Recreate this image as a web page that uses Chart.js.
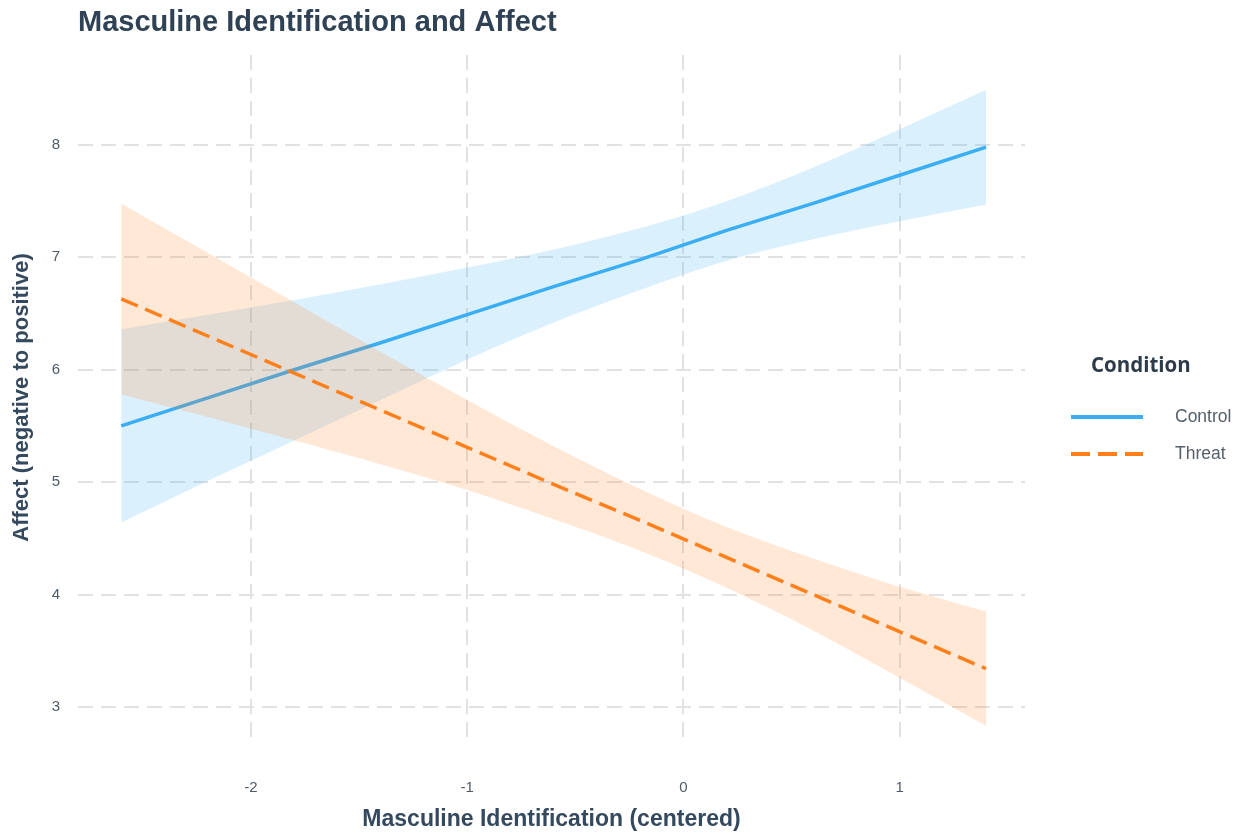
<!DOCTYPE html>
<html>
<head>
<meta charset="utf-8">
<title>Masculine Identification and Affect</title>
<script src="https://cdn.jsdelivr.net/npm/chart.js@4"></script>
<style>
  html, body { margin: 0; padding: 0; background: #fff; }
</style>
</head>
<body>
<canvas id="chart" width="1247" height="836"></canvas>
<script>
// masculine identification (centered), grid the fits were read at
const xs = [-2.6, -2.2, -1.8, -1.4, -1.0, -0.6, -0.2, 0.2, 0.6, 1.0, 1.4];

// Control condition: fitted line + 95% band
const controlFit   = [5.50, 5.75, 6.00, 6.24, 6.49, 6.74, 6.98, 7.24, 7.48, 7.73, 7.98];
const controlUpper = [6.36, 6.49, 6.62, 6.76, 6.91, 7.07, 7.26, 7.50, 7.80, 8.14, 8.49];
const controlLower = [4.64, 5.01, 5.37, 5.73, 6.09, 6.42, 6.71, 6.97, 7.16, 7.32, 7.47];

// Threat condition: fitted line + 95% band
const threatFit   = [6.63, 6.30, 5.97, 5.64, 5.31, 4.98, 4.66, 4.33, 4.00, 3.67, 3.34];
const threatUpper = [7.48, 7.04, 6.60, 6.16, 5.73, 5.32, 4.94, 4.60, 4.32, 4.07, 3.85];
const threatLower = [5.78, 5.58, 5.37, 5.16, 4.93, 4.67, 4.39, 4.06, 3.68, 3.26, 2.83];

const xTicks = [-2, -1, 0, 1];
const yTicks = [3, 4, 5, 6, 7, 8];

const conditions = ['Control', 'Threat'];
const blue = '#3AAEF5';
const orange = '#FF7F1A';
const sans = '"Liberation Sans", Arial, sans-serif';

function pts(ys) {
  return xs.map((x, i) => ({ x: x, y: ys[i] }));
}

function bandEdge(ys, fill, bg, order) {
  return {
    data: pts(ys),
    fill: fill,
    backgroundColor: bg,
    borderColor: 'rgba(0,0,0,0)',
    borderWidth: 0,
    pointRadius: 0,
    cubicInterpolationMode: 'monotone',
    order: order
  };
}

// title + legend drawn by hand (ggplot style legend)
const decorations = {
  id: 'decorations',
  afterDraw(chart) {
    const ctx = chart.ctx;
    ctx.save();
    ctx.textBaseline = 'middle';
    ctx.textAlign = 'left';
    ctx.fillStyle = '#2F4255';
    ctx.font = 'bold 29px ' + sans;
    ctx.fillText('Masculine Identification and Affect', 78, 23);

    ctx.fillStyle = '#2C3A4A';
    ctx.font = 'bold 20.5px "Open Sans", sans-serif';
    ctx.fillText('Condition', 1091, 366);

    const rows = [
      { label: conditions[0], color: blue, dash: [], y: 417 },
      { label: conditions[1], color: orange, dash: [19, 8], y: 454 }
    ];
    rows.forEach(r => {
      ctx.beginPath();
      ctx.setLineDash(r.dash);
      ctx.strokeStyle = r.color;
      ctx.lineWidth = 4;
      ctx.moveTo(1071, r.y);
      ctx.lineTo(1143, r.y);
      ctx.stroke();
      ctx.setLineDash([]);
      ctx.fillStyle = '#56606B';
      ctx.font = '17.5px ' + sans;
      ctx.fillText(r.label, 1175, r.y);
    });
    ctx.restore();
  }
};

const gridStyle = { color: '#E2E2E2', lineWidth: 2, drawTicks: false };
const borderStyle = { display: false, dash: [15, 8] };

new Chart(document.getElementById('chart'), {
  type: 'line',
  data: {
    datasets: [
      bandEdge(controlUpper, '+1', 'rgba(58,174,245,0.18)', 6),
      bandEdge(controlLower, false, 'rgba(0,0,0,0)', 6),
      {
        label: conditions[0],
        data: pts(controlFit),
        borderColor: blue,
        borderWidth: 3.5,
        pointRadius: 0,
        fill: false,
        order: 5
      },
      bandEdge(threatUpper, '+1', 'rgba(255,127,26,0.18)', 4),
      bandEdge(threatLower, false, 'rgba(0,0,0,0)', 4),
      {
        label: conditions[1],
        data: pts(threatFit),
        borderColor: orange,
        borderWidth: 3.5,
        borderDash: [18, 8],
        pointRadius: 0,
        fill: false,
        order: 3
      }
    ]
  },
  options: {
    responsive: false,
    animation: false,
    layout: { padding: { top: 55, right: 222, left: 0, bottom: 0 } },
    plugins: {
      legend: { display: false },
      tooltip: { enabled: false },
      title: { display: false }
    },
    scales: {
      x: {
        type: 'linear',
        min: -2.8,
        max: 1.58,
        afterBuildTicks: s => { s.ticks = xTicks.map(v => ({ value: v })); },
        afterFit: s => { s.height = 96; },
        grid: gridStyle,
        border: borderStyle,
        ticks: {
          padding: 39,
          color: '#4F5B66',
          font: { family: sans, size: 15 }
        },
        title: {
          display: true,
          text: 'Masculine Identification (centered)',
          color: '#34495E',
          padding: { top: 0, bottom: 3 },
          font: { family: sans, size: 23, weight: 'bold' }
        }
      },
      y: {
        type: 'linear',
        min: 2.706,
        max: 8.8,
        afterBuildTicks: s => { s.ticks = yTicks.map(v => ({ value: v })); },
        afterFit: s => { s.width = 78; },
        grid: gridStyle,
        border: borderStyle,
        ticks: {
          padding: 18,
          color: '#4F5B66',
          font: { family: sans, size: 15 }
        },
        title: {
          display: true,
          text: 'Affect (negative to positive)',
          color: '#34495E',
          padding: { top: 9, bottom: 0 },
          font: { family: sans, size: 22, weight: 'bold' }
        }
      }
    }
  },
  plugins: [decorations]
});
</script>
</body>
</html>
